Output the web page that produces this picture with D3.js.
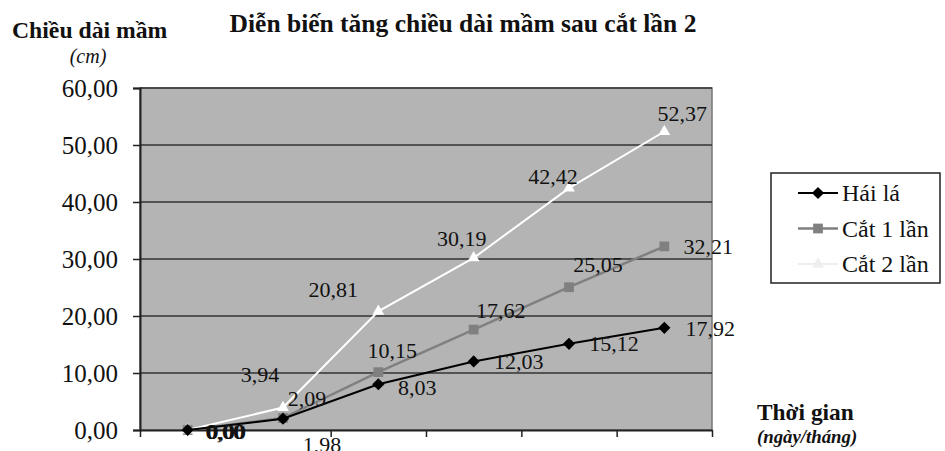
<!DOCTYPE html>
<html><head><meta charset="utf-8">
<script src="https://cdn.jsdelivr.net/npm/d3@7"></script>
<style>
html,body{margin:0;padding:0;background:#fff;}
svg{display:block;}
text{font-family:"Liberation Serif","Times New Roman",serif;fill:#111;}
</style></head>
<body>
<svg id="chart" width="945" height="451"></svg>
<script>
// ---- data ----
const categories = ["1", "2", "3", "4", "5", "6"];
const seriesNames = ["Hái lá", "Cắt 1 lần", "Cắt 2 lần"];
const haiLa   = [0.00, 1.98, 8.03, 12.03, 15.12, 17.92];
const cat1Lan = [0.00, 2.09, 10.15, 17.62, 25.05, 32.21];
const cat2Lan = [0.00, 3.94, 20.81, 30.19, 42.42, 52.37];
const yTicks  = [0, 10, 20, 30, 40, 50, 60];
const titleText = "Diễn biến tăng chiều dài mầm sau cắt lần 2";
const yTitle = "Chiều dài mầm";
const yUnit = "(cm)";
const xTitle = "Thời gian";
const xUnit = "(ngày/tháng)";

// ---- layout / style (not data) ----
const M = {left: 140, right: 712, top: 88, bottom: 430};
const styles = [
  {color: "#000000", width: 2, marker: d3.symbolDiamond2, area: 95, mfill: "#000"},
  {color: "#808080", width: 2.5, marker: d3.symbolSquare2, area: 121, mfill: "#808080"},
  {color: "#ffffff", width: 2, marker: d3.symbolTriangle2, area: 100, mfill: "#ffffff"}
];
// label offsets (dx, dy) relative to each point
const labelOffsets = [
  [[37,1],[39,26],[39,3],[45,0],[45,0],[46,1]],
  [[39,1],[24,-20],[14,-22],[27,-19],[29,-23],[44,0]],
  [[38,1],[-23,-33],[-45,-22],[-12,-19],[-16,-12],[18,-18]]
];

const svg = d3.select("#chart");
const x = d3.scaleLinear().domain([0, categories.length]).range([M.left, M.right]);
const y = d3.scaleLinear().domain([0, 60]).range([M.bottom, M.top]);
const fmt = v => d3.format(".2f")(v).replace(".", ",");

// plot background
svg.append("rect").attr("x", M.left).attr("y", M.top)
  .attr("width", M.right - M.left).attr("height", M.bottom - M.top)
  .attr("fill", "#b4b4b4").attr("stroke", "#777").attr("stroke-width", 1.5);

// gridlines
svg.append("g").selectAll("line").data(yTicks.slice(1)).join("line")
  .attr("x1", M.left).attr("x2", M.right)
  .attr("y1", d => y(d)).attr("y2", d => y(d))
  .attr("stroke", "#333").attr("stroke-width", 1.5);

// y axis
const yAxis = svg.append("g").attr("transform", `translate(${M.left},0)`)
  .call(d3.axisLeft(y).tickValues(yTicks).tickFormat(fmt).tickSize(7).tickPadding(15));
yAxis.attr("font-family", null);
yAxis.select(".domain").attr("stroke", "#222").attr("stroke-width", 2);
yAxis.selectAll(".tick line").attr("stroke", "#222").attr("stroke-width", 1.5);
yAxis.selectAll(".tick text").attr("font-size", 25).attr("fill", "#111");

// x axis
const xAxis = svg.append("g").attr("transform", `translate(0,${M.bottom})`)
  .call(d3.axisBottom(x).tickValues(d3.range(categories.length + 1)).tickFormat("").tickSize(7).tickSizeOuter(0));
xAxis.select(".domain").attr("stroke", "#222").attr("stroke-width", 2);
xAxis.selectAll(".tick line").attr("stroke", "#222").attr("stroke-width", 1.5);

const allSeries = [haiLa, cat1Lan, cat2Lan];
const px = i => x(i + 0.5);
const line = d3.line().x((d, i) => px(i)).y(d => y(d));

// draw series, black last so it is on top
[1, 2, 0].forEach(s => {
  const st = styles[s];
  svg.append("path").datum(allSeries[s]).attr("d", line)
    .attr("fill", "none").attr("stroke", st.color).attr("stroke-width", st.width);
  svg.append("g").selectAll("path").data(allSeries[s]).join("path")
    .attr("d", d3.symbol().type(st.marker).size(st.area))
    .attr("transform", (d, i) => `translate(${px(i)},${y(d)})`)
    .attr("fill", st.mfill).attr("stroke", "none");
});

// data labels
allSeries.forEach((vals, s) => {
  svg.append("g").selectAll("text").data(vals).join("text")
    .attr("x", (d, i) => px(i) + labelOffsets[s][i][0])
    .attr("y", (d, i) => y(d) + labelOffsets[s][i][1])
    .attr("text-anchor", "middle").attr("dominant-baseline", "central")
    .attr("font-size", 22).text(d => fmt(d));
});

// titles
svg.append("text").attr("x", 463).attr("y", 32).attr("text-anchor", "middle")
  .attr("font-size", 25.5).attr("font-weight", "bold").text(titleText);
svg.append("text").attr("x", 12).attr("y", 38)
  .attr("font-size", 23.7).attr("font-weight", "bold").text(yTitle);
svg.append("text").attr("x", 88).attr("y", 63).attr("text-anchor", "middle")
  .attr("font-size", 20).attr("font-style", "italic").text(yUnit);
svg.append("text").attr("x", 757).attr("y", 420)
  .attr("font-size", 23.4).attr("font-weight", "bold").text(xTitle);
svg.append("text").attr("x", 757).attr("y", 443)
  .attr("font-size", 18.8).attr("font-weight", "bold").attr("font-style", "italic").text(xUnit);

// legend
const lg = svg.append("g");
lg.append("rect").attr("x", 771).attr("y", 173).attr("width", 169).attr("height", 110)
  .attr("fill", "#fff").attr("stroke", "#222").attr("stroke-width", 1.5);
seriesNames.forEach((name, s) => {
  const st = styles[s];
  const ly = 193 + s * 35.5;
  lg.append("line").attr("x1", 798).attr("x2", 838).attr("y1", ly).attr("y2", ly)
    .attr("stroke", s === 2 ? "#eeeeee" : st.color).attr("stroke-width", st.width);
  lg.append("path")
    .attr("d", d3.symbol().type(st.marker).size(st.area))
    .attr("transform", `translate(818,${ly})`)
    .attr("fill", s === 2 ? "#eeeeee" : st.mfill);
  lg.append("text").attr("x", 842).attr("y", ly).attr("dominant-baseline", "central")
    .attr("font-size", 24).text(name);
});
</script>
</body></html>
